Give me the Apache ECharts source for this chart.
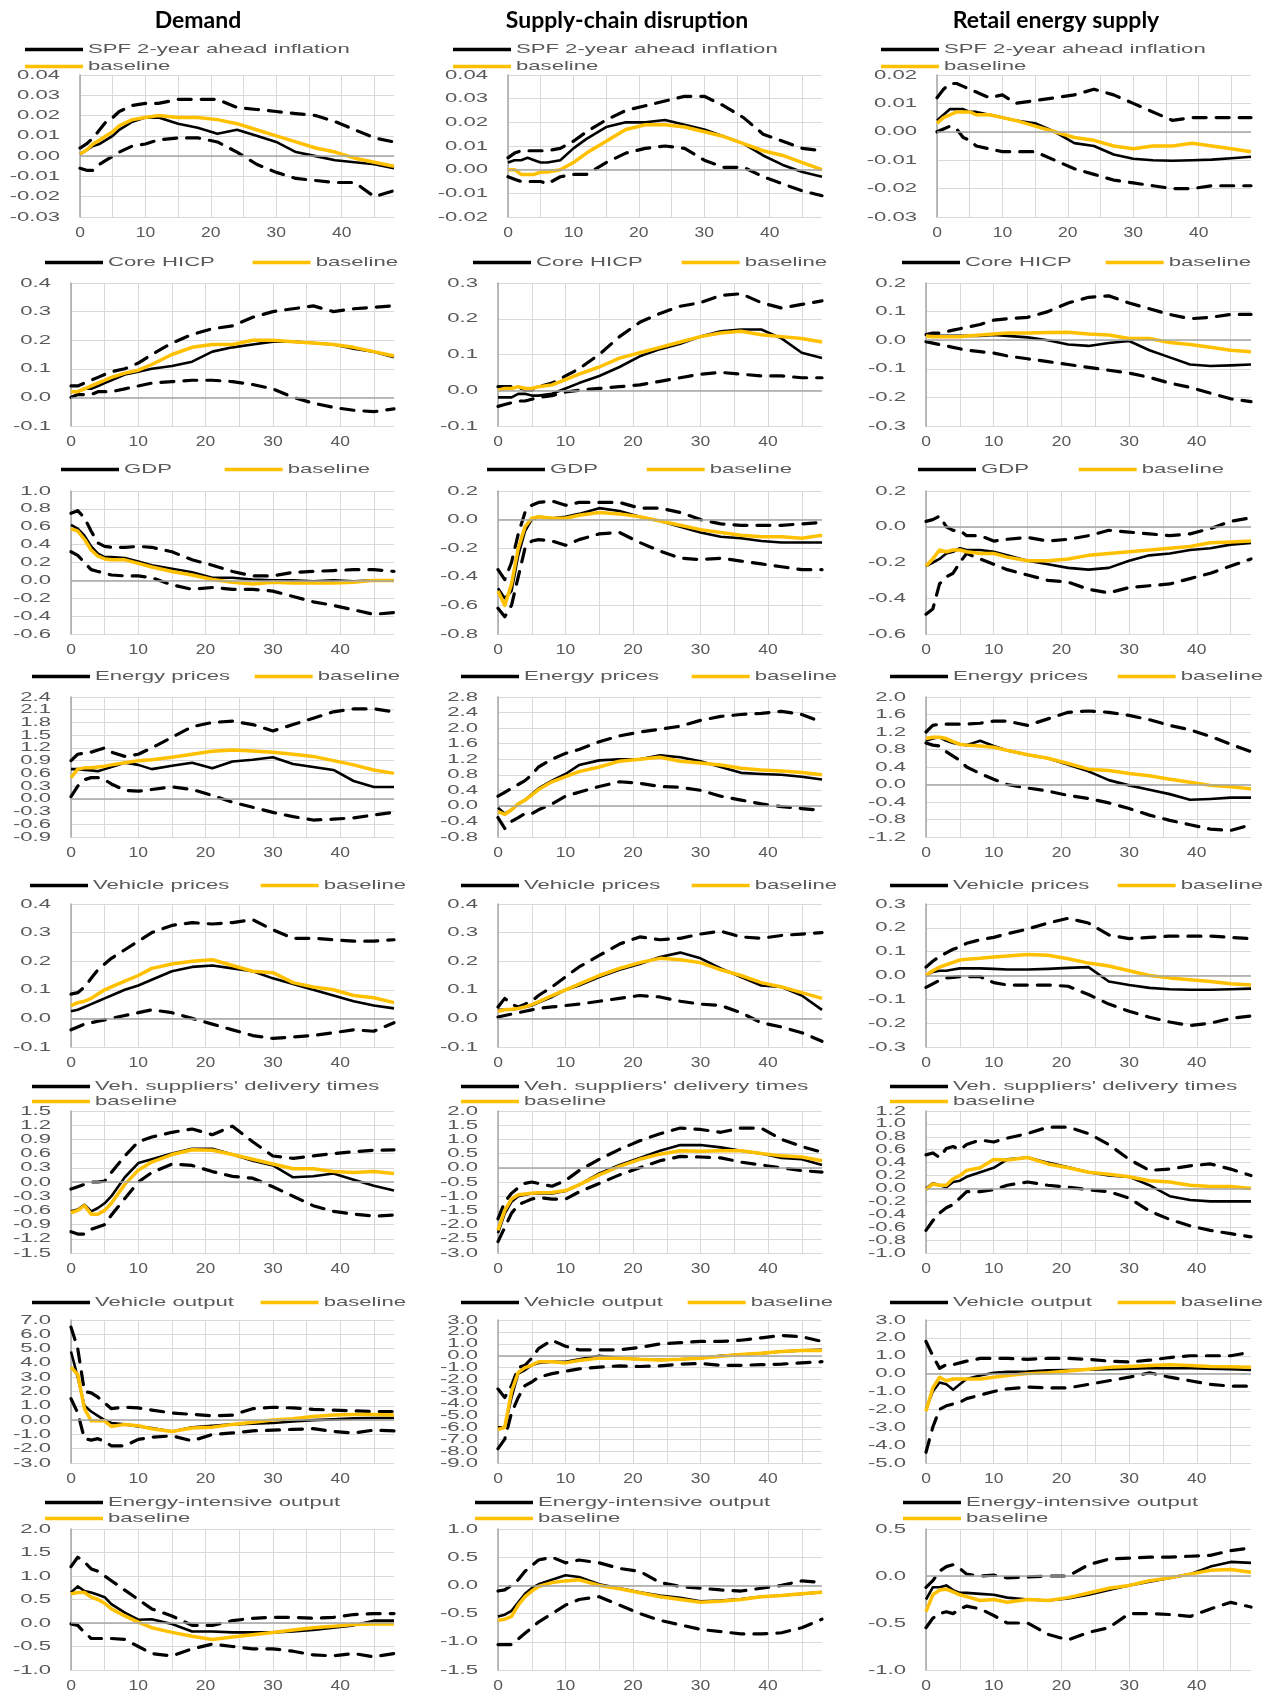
<!DOCTYPE html>
<html>
<head>
<meta charset="utf-8">
<title>Impulse responses</title>
<script src="https://cdn.jsdelivr.net/npm/echarts@6/dist/echarts.min.js"></script>
<style>
html, body { margin: 0; padding: 0; background: #fff; }
#main { width: 1274px; height: 1690px; }
</style>
</head>
<body>
<div id="main"></div>
<script>
var periods = [0, 1, 2, 3, 4, 5, 6, 8, 10, 12, 15, 18, 21, 24, 27, 30, 33, 36, 39, 42, 45, 48];

// every panel: [lower band, estimate, upper band, baseline]
var spfDemand = [
    [-0.006, -0.007, -0.007, -0.004, -0.002, 0.000, 0.002, 0.005, 0.006, 0.008, 0.009, 0.009, 0.007, 0.002, -0.004, -0.008, -0.011, -0.012, -0.013, -0.013, -0.020, -0.017],
    [0.001, 0.003, 0.005, 0.006, 0.008, 0.010, 0.013, 0.017, 0.019, 0.019, 0.016, 0.014, 0.011, 0.013, 0.010, 0.007, 0.002, 0.000, -0.002, -0.003, -0.004, -0.006],
    [0.004, 0.006, 0.009, 0.013, 0.017, 0.019, 0.022, 0.025, 0.026, 0.026, 0.028, 0.028, 0.028, 0.024, 0.023, 0.022, 0.021, 0.020, 0.017, 0.013, 0.009, 0.007],
    [0.001, 0.003, 0.006, 0.008, 0.010, 0.012, 0.015, 0.018, 0.019, 0.020, 0.019, 0.019, 0.018, 0.016, 0.013, 0.010, 0.007, 0.004, 0.002, -0.001, -0.003, -0.005]
];
var spfSupply = [
    [-0.003, -0.004, -0.005, -0.005, -0.005, -0.005, -0.006, -0.003, -0.002, -0.002, 0.003, 0.007, 0.009, 0.010, 0.009, 0.004, 0.001, 0.001, -0.003, -0.006, -0.009, -0.011],
    [0.003, 0.004, 0.004, 0.005, 0.004, 0.003, 0.003, 0.004, 0.009, 0.013, 0.018, 0.020, 0.020, 0.021, 0.019, 0.017, 0.014, 0.011, 0.006, 0.002, -0.001, -0.003],
    [0.005, 0.007, 0.008, 0.008, 0.008, 0.008, 0.008, 0.009, 0.012, 0.016, 0.021, 0.025, 0.027, 0.029, 0.031, 0.031, 0.027, 0.022, 0.015, 0.012, 0.009, 0.008],
    [0.000, 0.000, -0.002, -0.002, -0.002, -0.001, -0.001, 0.000, 0.003, 0.007, 0.012, 0.017, 0.019, 0.019, 0.018, 0.016, 0.014, 0.011, 0.008, 0.006, 0.003, 0.000]
];
var spfEnergy = [
    [0.000, 0.001, 0.002, 0.001, -0.002, -0.003, -0.005, -0.006, -0.007, -0.007, -0.007, -0.010, -0.013, -0.015, -0.017, -0.018, -0.019, -0.020, -0.020, -0.019, -0.019, -0.019],
    [0.004, 0.006, 0.008, 0.008, 0.008, 0.007, 0.007, 0.006, 0.005, 0.004, 0.003, 0.000, -0.004, -0.005, -0.008, -0.0095, -0.010, -0.0102, -0.010, -0.0098, -0.0093, -0.0088],
    [0.012, 0.015, 0.017, 0.017, 0.016, 0.015, 0.014, 0.012, 0.013, 0.010, 0.011, 0.012, 0.013, 0.015, 0.013, 0.010, 0.007, 0.004, 0.005, 0.005, 0.005, 0.005],
    [0.003, 0.005, 0.006, 0.007, 0.007, 0.007, 0.006, 0.006, 0.005, 0.004, 0.002, 0.000, -0.002, -0.003, -0.005, -0.006, -0.005, -0.005, -0.004, -0.005, -0.006, -0.007]
];

var hicpDemand = [
    [0.00, 0.01, 0.01, 0.01, 0.02, 0.02, 0.02, 0.03, 0.04, 0.05, 0.055, 0.06, 0.06, 0.055, 0.045, 0.03, 0.00, -0.02, -0.035, -0.045, -0.05, -0.04],
    [0.02, 0.02, 0.03, 0.03, 0.04, 0.05, 0.06, 0.08, 0.09, 0.10, 0.11, 0.125, 0.16, 0.175, 0.185, 0.195, 0.195, 0.19, 0.185, 0.17, 0.16, 0.14],
    [0.04, 0.04, 0.05, 0.06, 0.07, 0.08, 0.09, 0.10, 0.12, 0.15, 0.19, 0.22, 0.24, 0.25, 0.28, 0.30, 0.31, 0.32, 0.30, 0.31, 0.315, 0.32],
    [0.02, 0.02, 0.03, 0.04, 0.05, 0.06, 0.07, 0.085, 0.095, 0.115, 0.15, 0.175, 0.185, 0.185, 0.20, 0.20, 0.195, 0.19, 0.185, 0.175, 0.16, 0.145]
];
var hicpSupply = [
    [-0.045, -0.04, -0.035, -0.03, -0.03, -0.025, -0.02, -0.015, -0.005, 0.0, 0.005, 0.01, 0.015, 0.025, 0.035, 0.045, 0.05, 0.045, 0.04, 0.04, 0.035, 0.035],
    [-0.02, -0.02, -0.02, -0.01, -0.01, -0.015, -0.015, -0.01, 0.005, 0.02, 0.04, 0.065, 0.095, 0.115, 0.13, 0.15, 0.165, 0.17, 0.17, 0.145, 0.105, 0.09],
    [0.01, 0.01, 0.01, 0.01, 0.0, 0.0, 0.01, 0.02, 0.04, 0.06, 0.10, 0.15, 0.19, 0.215, 0.235, 0.245, 0.265, 0.27, 0.245, 0.23, 0.24, 0.25],
    [0.0, 0.005, 0.005, 0.01, 0.005, 0.005, 0.01, 0.015, 0.03, 0.045, 0.065, 0.09, 0.105, 0.12, 0.135, 0.15, 0.16, 0.165, 0.155, 0.15, 0.145, 0.135]
];
var hicpEnergy = [
    [-0.005, -0.01, -0.015, -0.02, -0.025, -0.03, -0.035, -0.04, -0.045, -0.055, -0.065, -0.075, -0.085, -0.095, -0.105, -0.115, -0.13, -0.15, -0.165, -0.185, -0.205, -0.215],
    [0.015, 0.015, 0.015, 0.015, 0.015, 0.015, 0.015, 0.015, 0.018, 0.015, 0.01, 0.0, -0.015, -0.02, -0.01, -0.003, -0.035, -0.06, -0.085, -0.09, -0.088, -0.085],
    [0.02, 0.025, 0.025, 0.03, 0.035, 0.04, 0.045, 0.055, 0.07, 0.075, 0.08, 0.10, 0.13, 0.15, 0.155, 0.13, 0.11, 0.09, 0.075, 0.08, 0.09, 0.09],
    [0.015, 0.012, 0.012, 0.012, 0.012, 0.012, 0.015, 0.018, 0.022, 0.025, 0.025, 0.027, 0.028, 0.022, 0.018, 0.006, 0.006, -0.008, -0.015, -0.025, -0.035, -0.04]
];

var gdpDemand = [
    [0.32, 0.28, 0.20, 0.12, 0.10, 0.08, 0.06, 0.05, 0.05, 0.03, -0.05, -0.10, -0.08, -0.10, -0.10, -0.12, -0.18, -0.24, -0.28, -0.33, -0.38, -0.36],
    [0.62, 0.58, 0.50, 0.38, 0.30, 0.26, 0.26, 0.25, 0.21, 0.17, 0.13, 0.09, 0.03, 0.03, 0.01, 0.00, 0.00, -0.01, 0.00, -0.01, 0.00, 0.00],
    [0.75, 0.78, 0.70, 0.55, 0.42, 0.38, 0.37, 0.37, 0.38, 0.37, 0.32, 0.23, 0.17, 0.10, 0.05, 0.05, 0.09, 0.10, 0.11, 0.12, 0.12, 0.10],
    [0.58, 0.55, 0.46, 0.34, 0.27, 0.24, 0.23, 0.23, 0.19, 0.15, 0.10, 0.06, 0.01, -0.02, -0.04, -0.02, -0.03, -0.03, -0.03, -0.02, 0.00, 0.00]
];
var gdpSupply = [
    [-0.62, -0.68, -0.60, -0.40, -0.20, -0.15, -0.14, -0.15, -0.18, -0.14, -0.10, -0.09, -0.16, -0.22, -0.27, -0.28, -0.27, -0.29, -0.31, -0.33, -0.35, -0.35],
    [-0.48, -0.55, -0.50, -0.25, -0.08, 0.00, 0.02, 0.01, 0.02, 0.04, 0.08, 0.06, 0.02, -0.01, -0.05, -0.09, -0.12, -0.13, -0.15, -0.16, -0.16, -0.16],
    [-0.35, -0.42, -0.30, -0.10, 0.05, 0.10, 0.12, 0.13, 0.10, 0.12, 0.12, 0.12, 0.08, 0.08, 0.05, 0.00, -0.03, -0.04, -0.04, -0.04, -0.03, -0.02],
    [-0.50, -0.60, -0.45, -0.20, -0.05, 0.01, 0.02, 0.01, 0.01, 0.03, 0.05, 0.04, 0.02, -0.01, -0.04, -0.07, -0.09, -0.11, -0.12, -0.12, -0.13, -0.11]
];
var gdpEnergy = [
    [-0.49, -0.46, -0.32, -0.28, -0.26, -0.20, -0.15, -0.18, -0.21, -0.24, -0.27, -0.30, -0.31, -0.35, -0.37, -0.34, -0.33, -0.32, -0.29, -0.26, -0.22, -0.18],
    [-0.22, -0.20, -0.18, -0.15, -0.14, -0.12, -0.13, -0.13, -0.14, -0.16, -0.19, -0.21, -0.23, -0.24, -0.23, -0.19, -0.16, -0.15, -0.13, -0.12, -0.10, -0.09],
    [0.03, 0.04, 0.06, 0.00, -0.02, -0.02, -0.05, -0.05, -0.08, -0.07, -0.06, -0.08, -0.07, -0.05, -0.02, -0.03, -0.04, -0.05, -0.04, -0.01, 0.03, 0.05],
    [-0.22, -0.18, -0.13, -0.14, -0.13, -0.13, -0.14, -0.15, -0.15, -0.17, -0.19, -0.19, -0.18, -0.16, -0.15, -0.14, -0.13, -0.12, -0.11, -0.09, -0.085, -0.08]
];

var enpDemand = [
    [0.05, 0.30, 0.45, 0.50, 0.50, 0.45, 0.35, 0.20, 0.18, 0.22, 0.28, 0.22, 0.08, -0.08, -0.20, -0.32, -0.42, -0.50, -0.48, -0.45, -0.38, -0.32],
    [0.70, 0.70, 0.68, 0.67, 0.65, 0.70, 0.75, 0.85, 0.80, 0.70, 0.78, 0.85, 0.72, 0.88, 0.92, 0.98, 0.82, 0.75, 0.68, 0.42, 0.28, 0.28],
    [0.90, 1.05, 1.08, 1.10, 1.15, 1.20, 1.10, 1.00, 1.05, 1.20, 1.45, 1.70, 1.80, 1.83, 1.75, 1.60, 1.75, 1.90, 2.05, 2.12, 2.12, 2.05],
    [0.50, 0.70, 0.73, 0.73, 0.75, 0.77, 0.80, 0.85, 0.90, 0.92, 0.98, 1.05, 1.12, 1.15, 1.13, 1.10, 1.05, 1.00, 0.90, 0.80, 0.68, 0.60]
];
var enpSupply = [
    [-0.30, -0.58, -0.40, -0.30, -0.20, -0.20, -0.10, 0.05, 0.25, 0.35, 0.50, 0.62, 0.58, 0.50, 0.48, 0.40, 0.25, 0.15, 0.05, -0.02, -0.07, -0.12],
    [-0.05, -0.20, -0.10, 0.05, 0.15, 0.30, 0.45, 0.65, 0.82, 1.05, 1.17, 1.20, 1.20, 1.30, 1.25, 1.15, 1.00, 0.85, 0.82, 0.80, 0.75, 0.68],
    [0.25, 0.35, 0.45, 0.55, 0.65, 0.80, 1.00, 1.20, 1.35, 1.45, 1.65, 1.80, 1.90, 1.97, 2.05, 2.20, 2.30, 2.35, 2.38, 2.43, 2.35, 2.15],
    [-0.15, -0.22, -0.10, 0.05, 0.15, 0.28, 0.42, 0.62, 0.75, 0.88, 1.00, 1.15, 1.20, 1.25, 1.15, 1.10, 1.05, 0.97, 0.92, 0.90, 0.86, 0.80]
];
var enpEnergy = [
    [0.95, 0.90, 0.88, 0.75, 0.65, 0.55, 0.40, 0.25, 0.12, 0.00, -0.08, -0.15, -0.25, -0.32, -0.42, -0.55, -0.70, -0.82, -0.92, -1.02, -1.05, -0.92],
    [1.00, 1.05, 1.08, 1.00, 0.95, 0.92, 0.90, 1.00, 0.88, 0.78, 0.68, 0.60, 0.45, 0.30, 0.10, -0.02, -0.12, -0.22, -0.35, -0.33, -0.30, -0.30],
    [1.20, 1.35, 1.38, 1.38, 1.38, 1.38, 1.38, 1.40, 1.45, 1.45, 1.35, 1.50, 1.65, 1.68, 1.65, 1.58, 1.48, 1.35, 1.25, 1.10, 0.92, 0.75],
    [1.05, 1.08, 1.08, 1.05, 0.98, 0.92, 0.90, 0.88, 0.85, 0.78, 0.68, 0.60, 0.48, 0.35, 0.32, 0.25, 0.20, 0.12, 0.05, -0.02, -0.05, -0.10]
];

var vehpDemand = [
    [-0.04, -0.03, -0.02, -0.015, -0.01, -0.005, 0.0, 0.01, 0.02, 0.03, 0.02, 0.0, -0.02, -0.04, -0.06, -0.07, -0.065, -0.06, -0.05, -0.04, -0.045, -0.015],
    [0.025, 0.03, 0.04, 0.05, 0.06, 0.07, 0.08, 0.10, 0.115, 0.135, 0.165, 0.18, 0.185, 0.175, 0.165, 0.14, 0.12, 0.10, 0.08, 0.06, 0.045, 0.035],
    [0.085, 0.09, 0.11, 0.14, 0.17, 0.19, 0.21, 0.24, 0.27, 0.30, 0.325, 0.335, 0.33, 0.335, 0.345, 0.31, 0.28, 0.28, 0.275, 0.27, 0.27, 0.275],
    [0.045, 0.055, 0.06, 0.07, 0.085, 0.10, 0.11, 0.13, 0.15, 0.175, 0.19, 0.20, 0.205, 0.185, 0.165, 0.16, 0.125, 0.11, 0.10, 0.08, 0.072, 0.055]
];
var vehpSupply = [
    [0.005, 0.01, 0.015, 0.02, 0.025, 0.03, 0.035, 0.04, 0.045, 0.05, 0.06, 0.07, 0.08, 0.075, 0.06, 0.05, 0.045, 0.02, -0.015, -0.03, -0.05, -0.08],
    [0.03, 0.03, 0.03, 0.035, 0.04, 0.045, 0.055, 0.075, 0.10, 0.115, 0.145, 0.17, 0.19, 0.215, 0.23, 0.21, 0.175, 0.145, 0.115, 0.11, 0.08, 0.03],
    [0.04, 0.07, 0.05, 0.04, 0.05, 0.06, 0.08, 0.11, 0.145, 0.18, 0.22, 0.26, 0.285, 0.275, 0.28, 0.295, 0.305, 0.285, 0.28, 0.29, 0.295, 0.30],
    [0.025, 0.03, 0.032, 0.035, 0.04, 0.048, 0.058, 0.08, 0.10, 0.12, 0.15, 0.175, 0.195, 0.21, 0.205, 0.195, 0.17, 0.15, 0.125, 0.11, 0.09, 0.07]
];
var vehpEnergy = [
    [-0.05, -0.035, -0.02, -0.01, -0.008, -0.005, -0.005, -0.005, -0.03, -0.04, -0.04, -0.04, -0.045, -0.08, -0.12, -0.15, -0.175, -0.195, -0.21, -0.20, -0.18, -0.17],
    [0.0, 0.015, 0.02, 0.02, 0.025, 0.03, 0.03, 0.03, 0.028, 0.025, 0.025, 0.028, 0.032, 0.035, -0.025, -0.04, -0.052, -0.058, -0.06, -0.06, -0.058, -0.055],
    [0.035, 0.06, 0.08, 0.095, 0.11, 0.12, 0.135, 0.15, 0.16, 0.175, 0.195, 0.22, 0.24, 0.22, 0.17, 0.155, 0.16, 0.165, 0.165, 0.165, 0.16, 0.155],
    [0.0, 0.02, 0.035, 0.045, 0.055, 0.065, 0.068, 0.072, 0.078, 0.082, 0.088, 0.085, 0.07, 0.052, 0.04, 0.02, 0.0, -0.01, -0.018, -0.025, -0.035, -0.04]
];

var delivDemand = [
    [-1.05, -1.10, -1.10, -1.00, -0.95, -0.90, -0.70, -0.35, 0.00, 0.20, 0.38, 0.35, 0.22, 0.12, 0.08, -0.10, -0.30, -0.50, -0.62, -0.68, -0.72, -0.70],
    [-0.62, -0.58, -0.48, -0.62, -0.55, -0.45, -0.30, 0.10, 0.40, 0.48, 0.60, 0.70, 0.70, 0.58, 0.45, 0.35, 0.10, 0.12, 0.18, 0.05, -0.08, -0.18],
    [-0.15, -0.10, -0.05, 0.00, 0.00, 0.02, 0.20, 0.55, 0.85, 0.95, 1.05, 1.12, 1.00, 1.18, 0.85, 0.55, 0.50, 0.55, 0.60, 0.64, 0.67, 0.68],
    [-0.65, -0.60, -0.50, -0.68, -0.68, -0.60, -0.45, -0.05, 0.25, 0.42, 0.58, 0.68, 0.67, 0.58, 0.48, 0.38, 0.28, 0.28, 0.22, 0.20, 0.22, 0.18]
];
var delivSupply = [
    [-2.6, -2.1, -1.6, -1.3, -1.2, -1.1, -1.05, -1.1, -1.1, -0.85, -0.55, -0.25, 0.0, 0.25, 0.4, 0.38, 0.35, 0.2, 0.1, 0.0, -0.1, -0.15],
    [-2.3, -1.6, -1.2, -1.0, -0.95, -0.9, -0.9, -0.9, -0.82, -0.6, -0.2, 0.1, 0.35, 0.6, 0.8, 0.8, 0.72, 0.6, 0.5, 0.35, 0.3, 0.1],
    [-1.8, -1.2, -0.9, -0.7, -0.55, -0.5, -0.55, -0.65, -0.45, -0.1, 0.3, 0.65, 0.95, 1.2, 1.4, 1.35, 1.25, 1.4, 1.4, 1.0, 0.75, 0.55],
    [-2.2, -1.5, -1.1, -0.95, -0.92, -0.9, -0.88, -0.87, -0.8, -0.6, -0.25, 0.05, 0.3, 0.48, 0.6, 0.58, 0.6, 0.6, 0.5, 0.42, 0.38, 0.25]
];
var delivEnergy = [
    [-0.65, -0.50, -0.38, -0.30, -0.25, -0.15, -0.05, -0.05, -0.02, 0.05, 0.10, 0.05, 0.02, -0.02, -0.05, -0.15, -0.35, -0.48, -0.58, -0.65, -0.70, -0.75],
    [0.0, 0.08, 0.05, 0.02, 0.10, 0.12, 0.18, 0.25, 0.32, 0.45, 0.48, 0.40, 0.33, 0.25, 0.20, 0.18, 0.05, -0.12, -0.18, -0.20, -0.20, -0.20],
    [0.52, 0.55, 0.48, 0.62, 0.65, 0.60, 0.68, 0.75, 0.72, 0.78, 0.85, 0.95, 0.95, 0.85, 0.68, 0.45, 0.28, 0.30, 0.35, 0.38, 0.30, 0.20],
    [-0.02, 0.07, 0.05, 0.05, 0.15, 0.20, 0.28, 0.32, 0.45, 0.44, 0.48, 0.38, 0.32, 0.25, 0.22, 0.18, 0.12, 0.10, 0.05, 0.03, 0.03, 0.0]
];

var voutDemand = [
    [1.5, 0.5, -1.3, -1.4, -1.3, -1.5, -1.8, -1.8, -1.35, -1.2, -1.1, -1.45, -1.0, -0.9, -0.75, -0.7, -0.65, -0.6, -0.8, -0.9, -0.7, -0.75],
    [4.8, 3.0, 1.0, 0.6, 0.3, 0.0, -0.2, -0.3, -0.45, -0.55, -0.8, -0.5, -0.4, -0.3, -0.25, -0.2, -0.1, 0.0, 0.05, 0.12, 0.15, 0.15],
    [6.5, 5.0, 2.0, 1.9, 1.6, 1.2, 0.8, 0.9, 0.85, 0.7, 0.5, 0.4, 0.3, 0.35, 0.8, 0.9, 0.85, 0.75, 0.7, 0.65, 0.6, 0.6],
    [3.7, 3.2, 0.8, -0.05, -0.05, -0.05, -0.45, -0.3, -0.4, -0.6, -0.8, -0.55, -0.5, -0.3, -0.15, 0.0, 0.1, 0.25, 0.35, 0.4, 0.4, 0.35]
];
var voutSupply = [
    [-7.8, -7.0, -4.8, -3.5, -2.5, -2.2, -1.8, -1.5, -1.3, -1.1, -0.95, -0.85, -0.9, -0.85, -0.7, -0.65, -0.8, -0.8, -0.75, -0.7, -0.6, -0.5],
    [-6.0, -6.0, -3.5, -1.5, -1.2, -0.8, -0.6, -0.5, -0.5, -0.3, 0.0, -0.2, -0.3, -0.35, -0.3, -0.2, 0.0, 0.1, 0.2, 0.35, 0.45, 0.5],
    [-2.8, -3.5, -2.5, -1.0, -0.8, -0.2, 0.6, 1.3, 0.8, 0.5, 0.5, 0.5, 0.7, 1.0, 1.1, 1.2, 1.2, 1.3, 1.5, 1.7, 1.6, 1.2],
    [-6.2, -6.0, -3.0, -1.4, -1.0, -0.8, -0.5, -0.5, -0.6, -0.4, -0.2, -0.2, -0.3, -0.35, -0.3, -0.2, -0.05, 0.1, 0.2, 0.35, 0.45, 0.45]
];
var voutEnergy = [
    [-4.4, -3.0, -2.0, -1.8, -1.7, -1.6, -1.4, -1.2, -1.0, -0.85, -0.75, -0.8, -0.8, -0.6, -0.4, -0.2, 0.05, -0.2, -0.4, -0.6, -0.7, -0.7],
    [-2.0, -1.0, -0.5, -0.6, -0.9, -0.6, -0.3, -0.1, 0.05, 0.1, 0.12, 0.18, 0.2, 0.22, 0.25, 0.28, 0.3, 0.3, 0.3, 0.28, 0.25, 0.2],
    [1.8, 1.0, 0.3, 0.5, 0.5, 0.6, 0.7, 0.85, 0.85, 0.85, 0.8, 0.85, 0.85, 0.8, 0.7, 0.65, 0.75, 0.9, 1.0, 1.0, 1.0, 1.2],
    [-2.1, -0.8, -0.2, -0.4, -0.3, -0.3, -0.3, -0.3, -0.2, -0.1, 0.0, 0.05, 0.15, 0.25, 0.35, 0.4, 0.45, 0.5, 0.45, 0.4, 0.38, 0.35]
];

var eintDemand = [
    [-0.02, -0.05, -0.20, -0.33, -0.33, -0.33, -0.33, -0.35, -0.50, -0.65, -0.70, -0.55, -0.45, -0.50, -0.55, -0.55, -0.60, -0.68, -0.70, -0.65, -0.72, -0.65],
    [0.65, 0.78, 0.68, 0.65, 0.60, 0.55, 0.40, 0.22, 0.07, 0.08, -0.02, -0.18, -0.18, -0.20, -0.20, -0.20, -0.18, -0.15, -0.10, -0.05, 0.05, 0.05],
    [1.20, 1.40, 1.30, 1.15, 1.10, 1.00, 0.90, 0.70, 0.50, 0.30, 0.15, -0.05, -0.05, 0.05, 0.10, 0.12, 0.12, 0.10, 0.12, 0.18, 0.20, 0.20],
    [0.62, 0.65, 0.65, 0.55, 0.50, 0.42, 0.30, 0.15, 0.02, -0.10, -0.20, -0.28, -0.35, -0.30, -0.25, -0.20, -0.15, -0.10, -0.07, -0.03, -0.02, -0.02]
];
var eintSupply = [
    [-1.05, -1.05, -1.05, -0.95, -0.85, -0.75, -0.65, -0.50, -0.35, -0.25, -0.20, -0.35, -0.50, -0.62, -0.70, -0.78, -0.82, -0.86, -0.86, -0.84, -0.75, -0.60],
    [-0.55, -0.52, -0.45, -0.30, -0.15, -0.05, 0.02, 0.10, 0.18, 0.15, 0.02, -0.05, -0.12, -0.18, -0.22, -0.28, -0.27, -0.24, -0.20, -0.18, -0.15, -0.12],
    [-0.10, -0.08, 0.00, 0.10, 0.25, 0.35, 0.45, 0.50, 0.40, 0.45, 0.40, 0.30, 0.25, 0.05, -0.02, -0.05, -0.08, -0.10, -0.05, 0.00, 0.08, 0.05],
    [-0.62, -0.60, -0.55, -0.35, -0.20, -0.10, -0.02, 0.05, 0.08, 0.10, 0.00, -0.06, -0.13, -0.20, -0.25, -0.30, -0.28, -0.25, -0.20, -0.18, -0.15, -0.12]
];
var eintEnergy = [
    [-0.55, -0.45, -0.40, -0.38, -0.40, -0.35, -0.32, -0.35, -0.42, -0.50, -0.50, -0.62, -0.68, -0.60, -0.55, -0.40, -0.40, -0.41, -0.43, -0.35, -0.28, -0.33],
    [-0.25, -0.12, -0.12, -0.10, -0.15, -0.18, -0.18, -0.19, -0.20, -0.23, -0.25, -0.26, -0.24, -0.20, -0.15, -0.10, -0.06, -0.02, 0.02, 0.10, 0.15, 0.14],
    [-0.12, -0.05, 0.05, 0.10, 0.12, 0.08, 0.02, 0.00, 0.01, -0.02, -0.01, 0.00, 0.00, 0.12, 0.18, 0.19, 0.20, 0.20, 0.21, 0.22, 0.27, 0.30],
    [-0.38, -0.20, -0.15, -0.14, -0.17, -0.20, -0.22, -0.26, -0.25, -0.28, -0.25, -0.26, -0.23, -0.18, -0.13, -0.10, -0.05, -0.02, 0.02, 0.06, 0.07, 0.04]
];

// y axes per column: [min, max, step]
var spfTicks = [[-0.03, 0.04, 0.01], [-0.02, 0.04, 0.01], [-0.03, 0.02, 0.01]];
var hicpTicks = [[-0.1, 0.4, 0.1], [-0.1, 0.3, 0.1], [-0.3, 0.2, 0.1]];
var gdpTicks = [[-0.6, 1.0, 0.2], [-0.8, 0.2, 0.2], [-0.6, 0.2, 0.2]];
var enpTicks = [[-0.9, 2.4, 0.3], [-0.8, 2.8, 0.4], [-1.2, 2.0, 0.4]];
var vehpTicks = [[-0.1, 0.4, 0.1], [-0.1, 0.4, 0.1], [-0.3, 0.3, 0.1]];
var delivTicks = [[-1.5, 1.5, 0.3], [-3.0, 2.0, 0.5], [-1.0, 1.2, 0.2]];
var voutTicks = [[-3, 7, 1], [-9, 3, 1], [-5, 3, 1]];
var eintTicks = [[-1.0, 2.0, 0.5], [-1.5, 1.0, 0.5], [-1.0, 0.5, 0.5]];

var shockNames = ['Demand', 'Supply-chain disruption', 'Retail energy supply'];

var rows = [
    { name: 'SPF 2-year ahead inflation', sets: [spfDemand, spfSupply, spfEnergy], ticks: spfTicks, digits: 2 },
    { name: 'Core HICP', sets: [hicpDemand, hicpSupply, hicpEnergy], ticks: hicpTicks, digits: 1 },
    { name: 'GDP', sets: [gdpDemand, gdpSupply, gdpEnergy], ticks: gdpTicks, digits: 1 },
    { name: 'Energy prices', sets: [enpDemand, enpSupply, enpEnergy], ticks: enpTicks, digits: 1 },
    { name: 'Vehicle prices', sets: [vehpDemand, vehpSupply, vehpEnergy], ticks: vehpTicks, digits: 1 },
    { name: "Veh. suppliers' delivery times", sets: [delivDemand, delivSupply, delivEnergy], ticks: delivTicks, digits: 1 },
    { name: 'Vehicle output', sets: [voutDemand, voutSupply, voutEnergy], ticks: voutTicks, digits: 1 },
    { name: 'Energy-intensive output', sets: [eintDemand, eintSupply, eintEnergy], ticks: eintTicks, digits: 1 }
];

/* page layout (px) */
var W = 1274;
var rowTop = [75, 283, 491, 697, 904, 1111, 1320, 1529];
var rowHeight = [142, 143, 143, 140, 143, 142, 143, 141];
var firstRowLeft = [80, 508, 937];
var plotLeft = [71, 498, 926];
var plotRight = [394, 822, 1251];
var titleX = [193, 622, 1051];

// two-line legends: top, gap, icon left per column
var legendStack = {
    0: [43, 4, [25, 453, 881]],
    5: [1080, 2, [32, 461, 890]],
    7: [1496, 3, [45, 475, 903]]
};
// one-line legends: centre y, icon left per column, right end of "baseline"
var legendLine = {
    1: [263, [45, 473, 902], [398, 827, 1251]],
    2: [470, [61, 487, 918], [370, 792, 1224]],
    3: [677, [32, 461, 890], [400, 837, 1263]],
    4: [886, [30, 461, 890], [406, 837, 1263]],
    6: [1303, [32, 461, 890], [406, 833, 1263]]
};

var GOLD = '#FFC000';
var GREY = '#595959';
var WIDE_FONT = 'Liberation Sans, xwide';
var MID_FONT = 'Liberation Sans, xmid';

// the small labels of the source figure are stretched sideways, do the same on the canvas
var stretchOf = function (font) {
    if (font.indexOf('xwide') >= 0) return 1.7;
    if (font.indexOf('xmid') >= 0) return 1.25;
    return 1;
};
var ctxProto = CanvasRenderingContext2D.prototype;
var rawFillText = ctxProto.fillText;
var rawMeasureText = ctxProto.measureText;
ctxProto.fillText = function (text, x, y) {
    var sx = stretchOf(this.font);
    if (sx === 1) return rawFillText.apply(this, arguments);
    this.save();
    this.translate(x, y);
    this.scale(sx, 1);
    rawFillText.call(this, text, 0, 0);
    this.restore();
};
ctxProto.measureText = function (text) {
    var m = rawMeasureText.call(this, text);
    var sx = stretchOf(this.font);
    // zrender measures '\u56fd' to get the line height: leave that one alone
    if (sx === 1 || text === '\u56fd') return m;
    return {
        width: m.width * sx,
        actualBoundingBoxLeft: m.actualBoundingBoxLeft * sx,
        actualBoundingBoxRight: m.actualBoundingBoxRight * sx,
        actualBoundingBoxAscent: m.actualBoundingBoxAscent,
        actualBoundingBoxDescent: m.actualBoundingBoxDescent,
        fontBoundingBoxAscent: m.fontBoundingBoxAscent,
        fontBoundingBoxDescent: m.fontBoundingBoxDescent
    };
};

var grid = [], xAxis = [], yAxis = [], series = [], legend = [];

var legendBase = function () {
    return {
        icon: 'rect', itemWidth: 58, itemHeight: 3.5, selectedMode: false, padding: 0,
        textStyle: { color: GREY, fontSize: 13, fontFamily: WIDE_FONT }
    };
};

var addLine = function (k, name, values, color, width, dash) {
    var s = {
        type: 'line', name: name, xAxisIndex: k, yAxisIndex: 2 * k,
        data: periods.map(function (p, i) { return [p, values[i]]; }),
        showSymbol: false, symbol: 'none', silent: true,
        emphasis: { disabled: true },
        itemStyle: { color: color },
        lineStyle: { color: color, width: width, type: dash || 'solid', cap: dash ? 'round' : 'butt', join: 'round' }
    };
    series.push(s);
    return s;
};

var yLabelStyle = function (extra) {
    var style = { color: GREY, fontSize: 13, lineHeight: 10, fontFamily: WIDE_FONT, margin: 20, hideOverlap: false };
    for (var key in extra) style[key] = extra[key];
    return style;
};

rows.forEach(function (row, r) {
    var fmt = function (v) { return (Math.abs(v) < 1e-9 ? 0 : v).toFixed(row.digits); };
    row.sets.forEach(function (set, c) {
        var k = grid.length;
        var left = (r === 0 ? firstRowLeft : plotLeft)[c];
        var t = row.ticks[c];
        var isEnd = function (v) { return Math.abs(v - t[0]) < t[2] / 100 || Math.abs(v - t[1]) < t[2] / 100; };

        grid.push({ left: left, top: rowTop[r], width: plotRight[c] - left, height: rowHeight[r], outerBoundsMode: 'none' });

        xAxis.push({
            gridIndex: k, type: 'value', min: 0, max: 48, interval: 5,
            axisLine: { show: false }, axisTick: { show: false },
            axisLabel: {
                color: GREY, fontSize: 14, fontFamily: MID_FONT, margin: 9, showMaxLabel: false,
                formatter: function (v) { return v % 10 === 0 ? String(v) : ''; }
            },
            splitLine: { show: true, showMaxLine: false, lineStyle: { color: '#d9d9d9', width: 1 } }
        });

        // inner tick labels; the two end labels sit on a twin axis so that the
        // overlap check at the axis ends cannot drop a neighbour on tight panels
        yAxis.push({
            gridIndex: k, type: 'value', min: t[0], max: t[1], interval: t[2],
            axisLine: { show: true, onZero: false, lineStyle: { color: '#a6a6a6', width: 1.5 } },
            axisTick: { show: false },
            axisLabel: yLabelStyle({ showMinLabel: false, showMaxLabel: false, formatter: fmt }),
            splitLine: { show: true, lineStyle: { color: '#d9d9d9', width: 1 } }
        });
        yAxis.push({
            gridIndex: k, type: 'value', position: 'left', offset: 0,
            min: t[0], max: t[1], interval: t[2],
            axisLine: { show: false }, axisTick: { show: false }, splitLine: { show: false },
            axisLabel: yLabelStyle({
                showMinLabel: true, showMaxLabel: true,
                formatter: function (v) { return isEnd(v) ? fmt(v) : ''; }
            })
        });

        // bands first, estimate and baseline on top
        var lo = addLine(k, 'lower', set[0], '#000', 3.2, [13, 10]);
        lo.markLine = {
            silent: true, symbol: ['none', 'none'], label: { show: false },
            lineStyle: { color: '#a6a6a6', width: 1.5, type: 'solid' },
            data: [{ yAxis: 0 }]
        };
        addLine(k, 'upper', set[2], '#000', 3.2, [13, 10]);
        addLine(k, row.name, set[1], '#000', 2.6);
        addLine(k, 'baseline', set[3], GOLD, 3.5);

        if (legendStack[r]) {
            var st = legendStack[r];
            var ls = legendBase();
            ls.orient = 'vertical';
            ls.left = st[2][c];
            ls.top = st[0];
            ls.itemGap = st[1];
            ls.data = [row.name, 'baseline'];
            legend.push(ls);
        } else {
            var cfg = legendLine[r];
            var la = legendBase();
            la.left = cfg[1][c];
            la.top = cfg[0] - 7;
            la.data = [row.name];
            legend.push(la);
            var lb = legendBase();
            lb.right = W - cfg[2][c];
            lb.top = cfg[0] - 7;
            lb.data = ['baseline'];
            legend.push(lb);
        }
    });
});

var chart = echarts.init(document.getElementById('main'), null, { renderer: 'canvas' });
chart.setOption({
    animation: false,
    backgroundColor: '#fff',
    title: shockNames.map(function (name, i) {
        return {
            text: name, left: titleX[i], top: 4, textAlign: 'center',
            textStyle: { fontFamily: 'Lato', fontWeight: 'bold', fontSize: 23, color: '#000' }
        };
    }),
    tooltip: { show: false },
    legend: legend,
    grid: grid,
    xAxis: xAxis,
    yAxis: yAxis,
    series: series
});
</script>
</body>
</html>
